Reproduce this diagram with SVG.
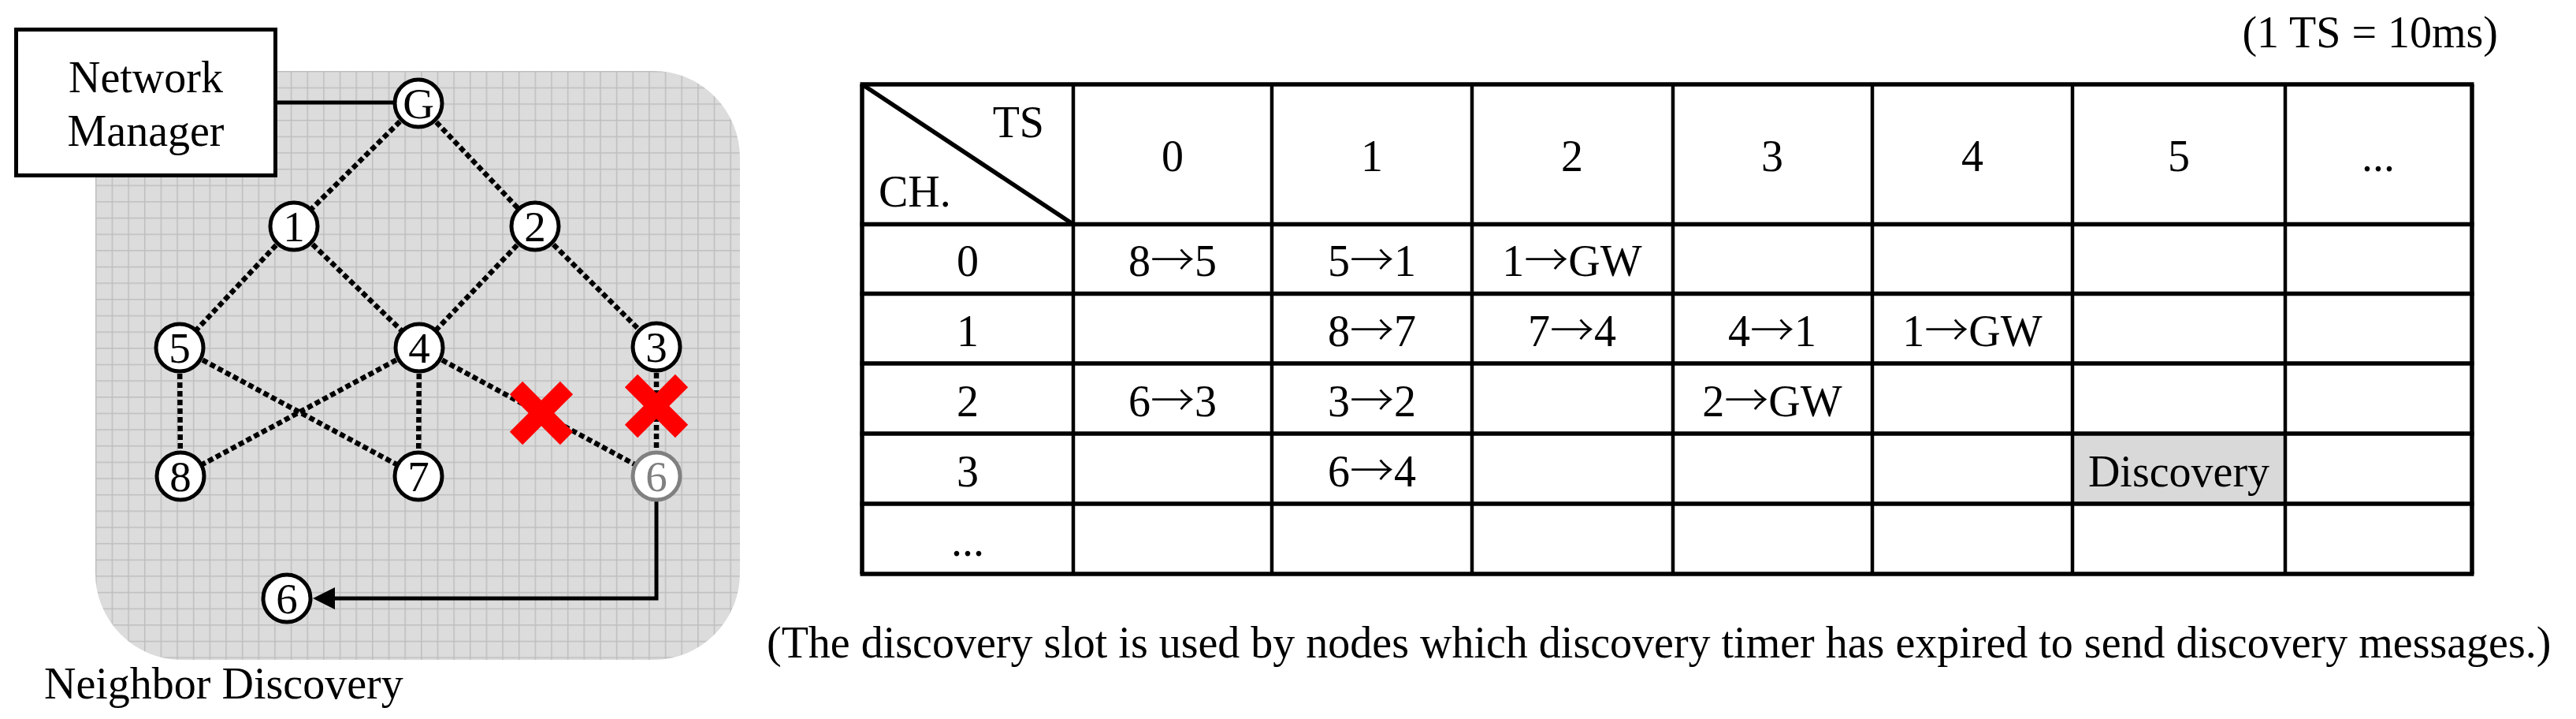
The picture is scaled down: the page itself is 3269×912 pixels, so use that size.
<svg xmlns="http://www.w3.org/2000/svg" width="3269" height="912" viewBox="0 0 3269 912">
<style>
.t{font-family:"Liberation Serif","Times New Roman",serif;font-size:56px;fill:#000}
.c{text-anchor:middle}
.a{font-family:"Noto Sans CJK JP","Liberation Serif",sans-serif;font-weight:300}
.node circle{fill:#fff;stroke:#000;stroke-width:5}
.node text{font-family:"Liberation Serif","Times New Roman",serif;font-size:55px;text-anchor:middle;fill:#000}
.node.gray circle{stroke:#808080}
.node.gray text{fill:#808080}
.dot{stroke:#000;stroke-width:6.5;stroke-dasharray:7 4;fill:none}
.solid{stroke:#000;stroke-width:5;fill:none}
.xm{stroke:#ff0000;stroke-width:23;stroke-linecap:butt}
.hl{stroke:#000;stroke-width:5.5}
.vl{stroke:#000;stroke-width:4.5}
</style>
<defs>
<pattern id="grid" x="121" y="90" width="20.65" height="20.65" patternUnits="userSpaceOnUse">
<rect width="20.65" height="20.65" fill="#dcdcdc"/>
<path d="M0.75 0V20.65M0 0.75H20.65" stroke="#bebebe" stroke-width="1.5"/>
</pattern>
<marker id="arr" viewBox="0 0 28 28" refX="20" refY="14" markerWidth="28" markerHeight="28" markerUnits="userSpaceOnUse" orient="auto">
<path d="M0,0 L28,14 L0,28 Z" fill="#000"/>
</marker>
</defs>
<rect x="0" y="0" width="3269" height="912" fill="#fff"/>

<!-- network area -->
<rect id="area" x="121" y="90" width="818" height="747" rx="110" ry="110" fill="url(#grid)"/>

<g id="connectors">
<line class="solid" x1="352" y1="130" x2="500" y2="130"/>
<line class="dot" x1="531" y1="131" x2="373" y2="287"/>
<line class="dot" x1="531" y1="131" x2="679" y2="287"/>
<line class="dot" x1="373" y1="287" x2="228" y2="441"/>
<line class="dot" x1="373" y1="287" x2="532" y2="441"/>
<line class="dot" x1="679" y1="287" x2="532" y2="441"/>
<line class="dot" x1="679" y1="287" x2="833" y2="440"/>
<line class="dot" x1="228" y1="441" x2="229" y2="604"/>
<line class="dot" x1="228" y1="441" x2="531" y2="604"/>
<line class="dot" x1="532" y1="441" x2="229" y2="604"/>
<line class="dot" x1="532" y1="441" x2="531" y2="604"/>
<line class="dot" x1="532" y1="441" x2="833" y2="604"/>
<line class="dot" x1="833" y1="440" x2="833" y2="604"/>
<path class="solid" d="M833,634 V759 H405" stroke-linejoin="miter" marker-end="url(#arr)"/>
</g>

<g id="x-marks">
<line class="xm" x1="655" y1="492" x2="719" y2="556"/>
<line class="xm" x1="719" y1="492" x2="655" y2="556"/>
<line class="xm" x1="801" y1="483" x2="865" y2="547"/>
<line class="xm" x1="865" y1="483" x2="801" y2="547"/>
</g>

<g id="network-manager">
<rect x="20.5" y="37.5" width="329" height="185" fill="#fff" stroke="#000" stroke-width="5"/>
<text class="t c" x="185" y="117">Network</text>
<text class="t c" x="185" y="185">Manager</text>
</g>

<g id="node-G" class="node"><circle cx="531" cy="131" r="30"/><text x="531" y="150">G</text></g>
<g id="node-1" class="node"><circle cx="373" cy="287" r="30"/><text x="373" y="306">1</text></g>
<g id="node-2" class="node"><circle cx="679" cy="287" r="30"/><text x="679" y="306">2</text></g>
<g id="node-5" class="node"><circle cx="228" cy="441" r="30"/><text x="228" y="460">5</text></g>
<g id="node-4" class="node"><circle cx="532" cy="441" r="30"/><text x="532" y="460">4</text></g>
<g id="node-3" class="node"><circle cx="833" cy="440" r="30"/><text x="833" y="459">3</text></g>
<g id="node-8" class="node"><circle cx="229" cy="604" r="30"/><text x="229" y="623">8</text></g>
<g id="node-7" class="node"><circle cx="531" cy="604" r="30"/><text x="531" y="623">7</text></g>
<g id="node-6-old" class="node gray"><circle cx="833" cy="604" r="30"/><text x="833" y="623">6</text></g>
<g id="node-6-new" class="node"><circle cx="364" cy="759" r="30"/><text x="364" y="778">6</text></g>

<text id="area-label" class="t" x="56" y="886">Neighbor Discovery</text>

<!-- schedule table -->
<g id="table">
<rect x="2630" y="550" width="270" height="89" fill="#d9d9d9"/>
<line class="hl" x1="1091.5" y1="107" x2="3139.5" y2="107"/>
<line class="hl" x1="1091.5" y1="284.5" x2="3139.5" y2="284.5"/>
<line class="hl" x1="1091.5" y1="372.5" x2="3139.5" y2="372.5"/>
<line class="hl" x1="1091.5" y1="461" x2="3139.5" y2="461"/>
<line class="hl" x1="1091.5" y1="550" x2="3139.5" y2="550"/>
<line class="hl" x1="1091.5" y1="639" x2="3139.5" y2="639"/>
<line class="hl" x1="1091.5" y1="728" x2="3139.5" y2="728"/>
<line class="hl" x1="1094" y1="107" x2="1094" y2="728"/>
<line class="hl" x1="3137" y1="107" x2="3137" y2="728"/>
<line class="vl" x1="1362" y1="107" x2="1362" y2="728"/>
<line class="vl" x1="1614" y1="107" x2="1614" y2="728"/>
<line class="vl" x1="1868" y1="107" x2="1868" y2="728"/>
<line class="vl" x1="2123" y1="107" x2="2123" y2="728"/>
<line class="vl" x1="2376" y1="107" x2="2376" y2="728"/>
<line class="vl" x1="2630" y1="107" x2="2630" y2="728"/>
<line class="vl" x1="2900" y1="107" x2="2900" y2="728"/>
<line class="hl" x1="1094" y1="107" x2="1362" y2="284.5"/>

<text class="t" x="1325" y="174" text-anchor="end">TS</text>
<text class="t" x="1115" y="262">CH.</text>

<text class="t c" x="1488" y="217">0</text>
<text class="t c" x="1741" y="217">1</text>
<text class="t c" x="1995" y="217">2</text>
<text class="t c" x="2249" y="217">3</text>
<text class="t c" x="2503" y="217">4</text>
<text class="t c" x="2765" y="217">5</text>
<text class="t c" x="3018" y="217">...</text>

<text class="t c" x="1228" y="350">0</text>
<text class="t c" x="1228" y="439">1</text>
<text class="t c" x="1228" y="528">2</text>
<text class="t c" x="1228" y="617">3</text>
<text class="t c" x="1228" y="705">...</text>

<text class="t c" x="1488" y="350">8<tspan class="a">→</tspan>5</text>
<text class="t c" x="1741" y="350">5<tspan class="a">→</tspan>1</text>
<text class="t c" x="1995" y="350">1<tspan class="a">→</tspan>GW</text>

<text class="t c" x="1741" y="439">8<tspan class="a">→</tspan>7</text>
<text class="t c" x="1995" y="439">7<tspan class="a">→</tspan>4</text>
<text class="t c" x="2249" y="439">4<tspan class="a">→</tspan>1</text>
<text class="t c" x="2503" y="439">1<tspan class="a">→</tspan>GW</text>

<text class="t c" x="1488" y="528">6<tspan class="a">→</tspan>3</text>
<text class="t c" x="1741" y="528">3<tspan class="a">→</tspan>2</text>
<text class="t c" x="2249" y="528">2<tspan class="a">→</tspan>GW</text>

<text class="t c" x="1741" y="617">6<tspan class="a">→</tspan>4</text>
<text class="t c" x="2765" y="617">Discovery</text>
</g>

<text id="ts-note" class="t" x="3170" y="60" text-anchor="end">(1 TS = 10ms)</text>
<text id="caption" class="t" x="973" y="834">(The discovery slot is used by nodes which discovery timer has expired to send discovery messages.)</text>
</svg>
